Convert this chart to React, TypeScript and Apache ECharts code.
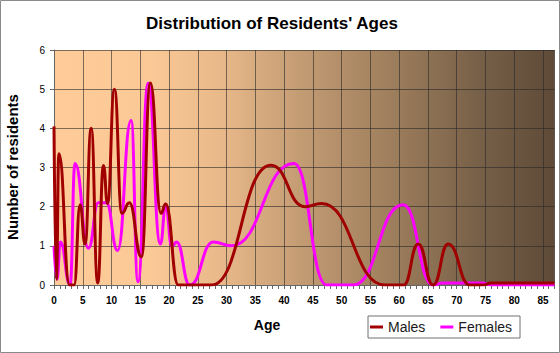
import React, { useEffect, useRef } from "react";
import * as echarts from "echarts";

const titleText = "Distribution of Residents' Ages";
const xAxisTitle = "Age";
const yAxisTitle = "Number of residents";
const seriesNames = ["Males", "Females"];

// Key points (age, count) (peaks, troughs, plateaus)
const maleAges = [0, 0.42, 0.85, 2.7, 3.5, 4.54, 5.4, 6.46, 7.6, 8.6, 9.3, 10.5, 11.8, 13.1, 15.2, 16.75, 18.6, 19.4, 21.6, 27.4, 37.7, 43.6, 46.5, 57.5, 60.8, 63.3, 65.9, 68.5, 72.3, 74.5, 76, 87];
const maleCounts = [4.05, 0.15, 3.35, 0, 0, 2.05, 1.05, 4.0, 0.05, 3.05, 2.08, 5.0, 1.83, 2.1, 0.72, 5.16, 1.83, 2.07, 0, 0, 3.06, 2.0, 2.08, 0, 0, 1.05, 0, 1.05, 0, 0, 0.05, 0.05];

const femaleAges = [0, 0.52, 1.1, 2.8, 3.65, 6.0, 7.7, 9.1, 11.05, 13.4, 14.6, 16.35, 18.5, 19.4, 20.5, 21.3, 23.6, 27.7, 30.8, 41.7, 47.4, 52.0, 60.7, 65.9, 67.5, 74.5, 76, 87];
const femaleCounts = [1.0, 0.15, 1.1, 0, 3.1, 0.94, 2.1, 2.1, 0.88, 4.2, 0.08, 5.15, 1.05, 2.0, 0.98, 1.1, 0, 1.1, 1.0, 3.1, 0, 0, 2.05, 0, 0.05, 0.05, 0, 0];

const xMin = 0;
const xMax = 87;
const xLabelStep = 5;
const yMin = 0;
const yMax = 6;
const yStep = 1;

const FONT = '"Liberation Sans", Arial, Helvetica, sans-serif';

export default function App() {
  const ref = useRef<HTMLDivElement>(null);

  useEffect(() => {
    if (!ref.current) return;
    const chart = echarts.init(ref.current, undefined, { renderer: "svg" });

    const male = maleAges.map((a, i) => [a, maleCounts[i]]);
    const female = femaleAges.map((a, i) => [a, femaleCounts[i]]);

    const gridLine = "rgba(40,40,40,0.6)";
    const axisCol = "#666666";

    chart.setOption({
      animation: false,
      backgroundColor: "#ffffff",
      grid: {
        left: 54,
        right: 5.5,
        top: 50,
        bottom: 68,
        show: true,
        borderWidth: 0,
        backgroundColor: new echarts.graphic.LinearGradient(0, 0, 1, 0, [
          { offset: 0, color: "#FFCC99" },
          { offset: 0.19, color: "#FBC996" },
          { offset: 0.33, color: "#E9B98A" },
          { offset: 0.49, color: "#C49C74" },
          { offset: 0.65, color: "#A3825F" },
          { offset: 0.85, color: "#776048" },
          { offset: 1, color: "#5E4A38" },
        ]),
      },
      legend: {
        data: seriesNames,
        left: 368,
        top: 316,
        orient: "horizontal",
        icon: "rect",
        itemWidth: 13,
        itemHeight: 3,
        itemGap: 15,
        padding: [4, 8, 4, 2],
        borderColor: "#707070",
        borderWidth: 1,
        textStyle: { fontFamily: FONT, fontSize: 14, color: "#1a1a1a" },
      },
      xAxis: [
        {
          type: "value",
          min: xMin,
          max: xMax,
          interval: xLabelStep,
          position: "bottom",
          axisLine: { show: true, lineStyle: { color: axisCol, width: 1 } },
          axisTick: { show: false },
          splitLine: { show: true, lineStyle: { color: gridLine, width: 1 } },
          axisLabel: {
            fontFamily: FONT,
            fontSize: 10,
            fontWeight: "bold",
            color: "#000",
            margin: 10,
            showMaxLabel: false,
          },
        },
        {
          type: "value",
          min: xMin,
          max: xMax,
          interval: 1,
          position: "bottom",
          axisLine: { show: false },
          axisTick: { show: true, inside: false, length: 4, lineStyle: { color: axisCol } },
          splitLine: { show: false },
          axisLabel: { show: false },
        },
      ],
      yAxis: {
        type: "value",
        min: yMin,
        max: yMax,
        interval: yStep,
        axisLine: { show: true, lineStyle: { color: axisCol, width: 1 } },
        axisTick: { show: true, inside: false, length: 4, lineStyle: { color: axisCol } },
        splitLine: { show: true, lineStyle: { color: gridLine, width: 1 } },
        axisLabel: { fontFamily: FONT, fontSize: 10, color: "#000", margin: 9 },
      },
      graphic: [
        {
          type: "rect",
          silent: true,
          shape: { x: 0.5, y: 0.5, width: 559, height: 352 },
          style: { fill: "none", stroke: "#8a8a8a", lineWidth: 1 },
        },
        {
          type: "text",
          silent: true,
          x: 272,
          y: 23,
          style: {
            text: titleText,
            font: `bold 17px ${FONT}`,
            fill: "#000",
            align: "center",
            verticalAlign: "middle",
          },
        },
        {
          type: "text",
          silent: true,
          x: 267,
          y: 325,
          style: {
            text: xAxisTitle,
            font: `bold 14px ${FONT}`,
            fill: "#000",
            align: "center",
            verticalAlign: "middle",
          },
        },
        {
          type: "text",
          silent: true,
          x: 12,
          y: 167,
          rotation: Math.PI / 2,
          style: {
            text: yAxisTitle,
            font: `bold 15px ${FONT}`,
            fill: "#000",
            align: "center",
            verticalAlign: "middle",
          },
        },
      ],
      series: [
        {
          name: seriesNames[1],
          type: "line",
          data: female,
          xAxisIndex: 0,
          showSymbol: false,
          symbol: "none",
          smooth: 0.5,
          smoothMonotone: "x",
          color: "#FF00FF",
          lineStyle: { color: "#FF00FF", width: 3 },
          z: 2,
        },
        {
          name: seriesNames[0],
          type: "line",
          data: male,
          xAxisIndex: 0,
          showSymbol: false,
          symbol: "none",
          smooth: 0.5,
          smoothMonotone: "x",
          color: "#A00000",
          lineStyle: { color: "#A00000", width: 3 },
          z: 3,
        },
      ],
    });

    return () => chart.dispose();
  }, []);

  return (
    <div
      ref={ref}
      style={{ position: "fixed", left: 0, top: 0, width: 560, height: 353 }}
    />
  );
}
